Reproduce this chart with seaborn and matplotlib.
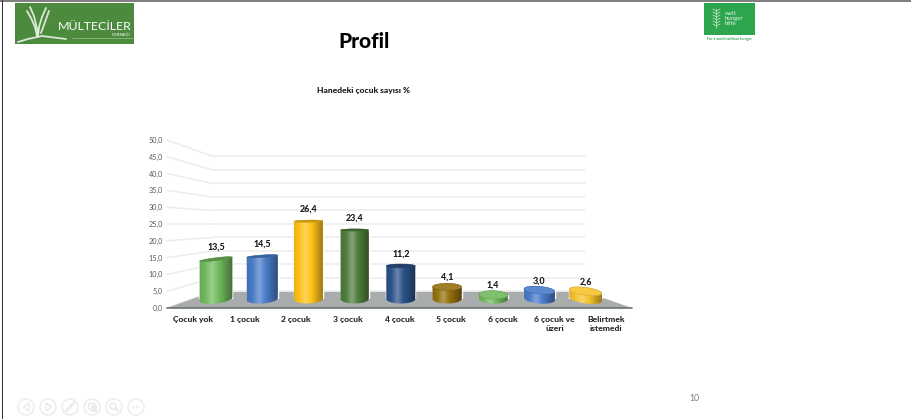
import numpy as np
import seaborn as sns
import matplotlib.pyplot as plt
from matplotlib.colors import LinearSegmentedColormap, to_rgb
from matplotlib.patches import Circle, Ellipse, Polygon, Rectangle

# veriler
kategoriler = ['Çocuk yok', '1 çocuk', '2 çocuk', '3 çocuk', '4 çocuk', '5 çocuk', '6 çocuk', '6 çocuk ve üzeri', 'Belirtmek istemedi']
etiketler = ['Çocuk yok', '1 çocuk', '2 çocuk', '3 çocuk', '4 çocuk', '5 çocuk', '6 çocuk', '6 çocuk ve\nüzeri', 'Belirtmek\nistemedi']
degerler = [13.5, 14.5, 26.4, 23.4, 11.2, 4.1, 1.4, 3.0, 2.6]
y_ticks = [0, 5, 10, 15, 20, 25, 30, 35, 40, 45, 50]

# stil
renkler = ['#70b95c', '#4a7cc8', '#ffc21a', '#4f7d3c', '#2c5288', '#94700f', '#70b95c', '#4a7cc8', '#f5c32c']
genislikler = [33, 31, 29, 28, 29, 29, 29, 31, 33]
egimler = [7, 4, 1, 0, 0, 0, -2, -5, -8]

sns.set_theme(style='white')
plt.rcParams['font.family'] = ['Lato', 'DejaVu Sans']

W, H = 912, 419
fig = plt.figure(figsize=(W / 100, H / 100), dpi=100, facecolor='white')


def eksen(x0, y_ust, x1, y_alt, z):
    # piksel koordinatlarindan eksen (y yukaridan asagi)
    a = fig.add_axes([x0 / W, 1 - y_alt / H, (x1 - x0) / W, (y_alt - y_ust) / H], zorder=z)
    a.patch.set_alpha(0)
    sns.despine(ax=a, left=True, bottom=True)
    return a


# arka plan - slayt elemanlari
ax_bg = fig.add_axes([0, 0, 1, 1], zorder=0)
ax_bg.set_xlim(0, W)
ax_bg.set_ylim(H, 0)
ax_bg.axis('off')

ax_bg.add_patch(Rectangle((0, 0), W, 1.6, color='#808080', lw=0))
ax_bg.add_patch(Rectangle((1.6, 0), 1.4, H, color='#303030', lw=0))

ax_bg.text(364, 41, 'Profil', fontsize=15, fontweight='black', color='black', ha='center', va='center')
ax_bg.text(364, 90, 'Hanedeki çocuk sayısı %', fontsize=6.1, fontweight='black', color='#1a1a1a', ha='center', va='center')
ax_bg.text(694, 398, '10', fontsize=6.2, color='#7a7a7a', ha='center', va='center')

# sol logo
ax_bg.add_patch(Rectangle((15, 3), 119, 41, color='#4c8a3d', lw=0))
ax_bg.text(94.5, 26, 'MÜLTECİLER', fontsize=8.9, color='white', ha='center', va='center')
ax_bg.text(121, 35.5, 'DERNEĞİ', fontsize=3.2, color='white', ha='center', va='center')
ax_bg.plot([72, 132], [38.5, 38.5], color='#8fb983', lw=0.6)
for xs, ys in [([27, 31, 35, 37], [11, 18, 27, 36]), ([30, 34, 38], [7, 16, 33]), ([46, 42, 39, 38], [8, 17, 27, 36]),
               ([49, 45, 41], [11, 22, 33]), ([18, 28, 42, 66], [42, 39, 36, 39])]:
    ax_bg.plot(xs, ys, color='white', lw=1.3, alpha=0.8, solid_capstyle='round')

# sag logo
ax_bg.add_patch(Rectangle((704, 3), 51, 32, color='#2ea64e', lw=0))
for yy in [10, 13, 16, 19, 22, 25]:
    ax_bg.plot([713, 716.5, 720], [yy - 1, yy + 1, yy - 1], color='#cfeccf', lw=0.5)
ax_bg.plot([716.5, 716.5], [9, 28], color='#cfeccf', lw=0.5)
ax_bg.text(725, 18.5, 'welt\nhunger\nhilfe', fontsize=4.4, color='#e6f5e6', ha='left', va='center', linespacing=1.0)
ax_bg.text(729, 39, 'For a world without hunger', fontsize=2.6, color='#2ea64e', fontweight='bold', ha='center', va='center')

# alt gezinme dugmeleri
gri = '#ebebeb'
merkezler = [26, 48, 70, 92, 114, 136]
for mx in merkezler:
    ax_bg.add_patch(Circle((mx, 407), 8, fill=False, ec=gri, lw=1))
ax_bg.add_patch(Polygon([[29, 403], [29, 411], [23.5, 407]], fill=False, ec=gri, lw=1))
ax_bg.add_patch(Polygon([[46, 403], [46, 411], [51.5, 407]], fill=False, ec=gri, lw=1))
ax_bg.plot([66, 74], [411, 403], color=gri, lw=2)
ax_bg.add_patch(Rectangle((88, 403), 6, 6, fill=False, ec=gri, lw=1))
ax_bg.add_patch(Rectangle((91, 405), 6, 7, color=gri, lw=0))
ax_bg.add_patch(Circle((113, 406), 3, fill=False, ec=gri, lw=1.2))
ax_bg.plot([115.5, 118.5], [408.5, 411], color=gri, lw=1.5)
ax_bg.plot([132, 140], [407, 407], color=gri, lw=1.6, linestyle=(0, (1, 0.6)))

# zemin ve yan cizgiler
on_sol, on_sag, on_y, on_ust = 167, 632, 308, 140
arka_sol, arka_sag, arka_y, arka_ust = 213, 585, 291.5, 156.5
for t in y_ticks:
    y_on = on_y - (on_y - on_ust) * t / 50
    y_arka = arka_y - (arka_y - arka_ust) * t / 50
    ax_bg.plot([on_sol, arka_sol], [y_on, y_arka], color='#ececec', lw=1.1)
ax_bg.add_patch(Polygon([[on_sol, on_y], [arka_sol, arka_y], [arka_sag, arka_y], [on_sag, on_y]], color='#a9acac', lw=0, zorder=3))
ax_bg.plot([on_sol, on_sag], [on_y + 0.3, on_y + 0.3], color='#6f7272', lw=1.2, zorder=3)

# arka duvar cizgileri
ax_arka = eksen(arka_sol, arka_ust, arka_sag, arka_y, 1)
ax_arka.set_ylim(0, 50)
ax_arka.set_xlim(0, 1)
ax_arka.set_yticks(y_ticks)
ax_arka.set_xticks([])
ax_arka.set_yticklabels([])
ax_arka.grid(axis='y', color='#ececec', lw=1.1, clip_on=False)
ax_arka.tick_params(length=0)

# on eksen: kategori ve deger etiketleri
ax_on = eksen(on_sol, on_ust, on_sag, on_y, 2)
ax_on.set_ylim(0, 50)
ax_on.set_xlim(-0.5, 8.5)
ax_on.set_yticks(y_ticks)
ax_on.set_yticklabels([f'{t:.1f}'.replace('.', ',') for t in y_ticks], fontsize=5.2, color='#595959')
ax_on.set_xticks(range(len(etiketler)))
ax_on.set_xticklabels(etiketler, fontsize=6.1, fontweight='black', color='#262626', linespacing=1.45, va='top')
ax_on.tick_params(axis='y', length=0, pad=3)
ax_on.tick_params(axis='x', length=0, pad=5.5)

# silindirler icin seaborn barplot
ax = eksen(192.9, 151.5, 608.7, 299, 3)
sns.barplot(x=kategoriler, y=degerler, hue=kategoriler, palette=renkler, legend=False, width=0.65, ax=ax)
ax.set_xlim(-0.5, 8.5)
ax.set_ylim(0, 50)
ax.set_xticks([])
ax.set_yticks([])
ax.set_xlabel('')
ax.set_ylabel('')

ax_c = fig.add_axes([0, 0, 1, 1], zorder=4)
ax_c.patch.set_alpha(0)
ax_c.axis('off')

cubuklar = sorted([p for p in ax.patches], key=lambda p: p.get_x())


def elips_nokta(cx, cy, w, h, aci, t):
    r = np.radians(aci)
    x = w / 2 * np.cos(t)
    y = h / 2 * np.sin(t)
    return np.c_[cx + x * np.cos(r) - y * np.sin(r), cy + x * np.sin(r) + y * np.cos(r)]


def karistir(c, hedef, oran):
    return tuple(np.array(c) * (1 - oran) + np.array(hedef) * oran)


for i, p in enumerate(cubuklar):
    c = to_rgb(renkler[i])
    v = degerler[i]
    orta = p.get_x() + p.get_width() / 2
    px_w = genislikler[i]
    p.set_width(px_w / 46.2)
    p.set_x(orta - px_w / 46.2 / 2)

    # veri koordinatindan ekran pikseline
    cx, y_alt = ax.transData.transform((orta, 0))
    _, y_ust = ax.transData.transform((orta, v))
    aci = egimler[i]
    h_alt = 9
    h_ust = max(2.2, 9 - 0.45 * v)

    alt = elips_nokta(cx, y_alt, px_w, h_alt, aci, np.linspace(np.pi, 2 * np.pi, 40))
    ust = elips_nokta(cx, y_ust, px_w, h_ust, aci, np.linspace(0, np.pi, 40))
    govde = Polygon(np.r_[alt, ust], closed=True, fc='none', ec='none')
    ax_c.add_patch(govde)

    acik = karistir(c, (1, 1, 1), 0.3)
    cmap = LinearSegmentedColormap.from_list('silindir', [karistir(c, (0, 0, 0), 0.1), c, acik, c, karistir(c, (0, 0, 0), 0.2), karistir(c, (0, 0, 0), 0.4)])
    im = ax_c.imshow(np.linspace(0, 1, 64).reshape(1, -1), cmap=cmap, aspect='auto', interpolation='bilinear',
                     extent=[cx - px_w / 2 - 1, cx + px_w / 2 + 1, y_alt - 12, y_ust + 12], zorder=2)
    im.set_clip_path(govde)
    ust_renk = karistir(c, (0, 0, 0), 0.22) if v > 8 else karistir(c, (1, 1, 1), 0.1)
    ax_c.add_patch(Ellipse((cx, y_ust), px_w, h_ust, angle=aci, fc=ust_renk, ec=karistir(c, (0, 0, 0), 0.2), lw=0.3, zorder=3))
    ofset = 7.5 if v > 8 else 5
    ax_c.text(cx, y_ust + ofset, f'{v:.1f}'.replace('.', ','), fontsize=6.4, fontweight='black', color='#1a1a1a', ha='center', va='bottom', zorder=4)

ax_c.set_xlim(0, W)
ax_c.set_ylim(0, H)

fig.savefig('out.png', dpi=100)
